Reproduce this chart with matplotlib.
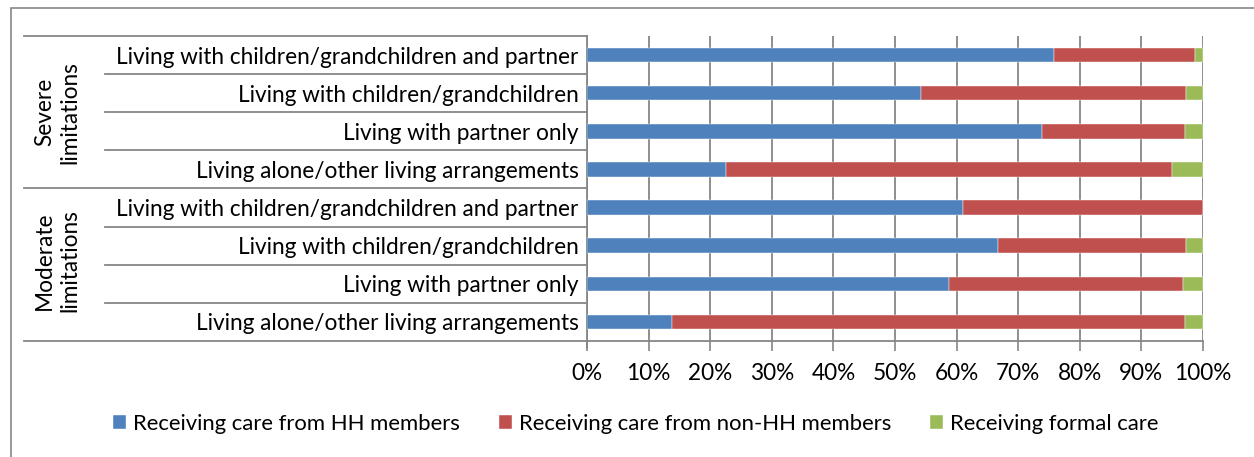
import matplotlib
matplotlib.use("Agg")
import matplotlib.pyplot as plt
from matplotlib.patches import Rectangle

plt.rcParams['font.family'] = ['Lato', 'DejaVu Sans']

categories = [
    "Living with children/grandchildren and partner",
    "Living with children/grandchildren",
    "Living with partner only",
    "Living alone/other living arrangements",
    "Living with children/grandchildren and partner",
    "Living with children/grandchildren",
    "Living with partner only",
    "Living alone/other living arrangements",
]
groups = ["Severe\nlimitations", "Moderate\nlimitations"]
hh = [75.8, 54.2, 73.8, 22.5, 61.0, 66.8, 58.7, 13.8]
non_hh = [22.9, 43.1, 23.3, 72.4, 39.0, 30.4, 38.0, 83.2]
formal = [1.3, 2.7, 2.9, 5.1, 0.0, 2.8, 3.3, 3.0]
series_names = ["Receiving care from HH members",
                "Receiving care from non-HH members",
                "Receiving formal care"]
colors = ["#4F81BD", "#C0504D", "#9BBB59"]
xticks = list(range(0, 101, 10))
xticklabels = [f"{t}%" for t in xticks]

FS = 16.3
W, H = 1254, 457
fig = plt.figure(figsize=(W / 100, H / 100), dpi=100)
ax = fig.add_axes([587 / W, (H - 341) / H, 616 / W, 305 / H])

y = list(range(len(categories)))
left = [0] * len(categories)
for vals, name, c in zip([hh, non_hh, formal], series_names, colors):
    ax.barh(y, vals, left=left, height=0.38, color=c, label=name,
            edgecolor='white', linewidth=0.3, zorder=3)
    left = [a + b for a, b in zip(left, vals)]

ax.set_xlim(0, 100)
ax.set_ylim(len(categories) - 0.5, -0.5)
ax.set_xticks(xticks)
ax.set_xticklabels(xticklabels, fontsize=FS)
ax.set_yticks(y)
ax.set_yticklabels(categories, fontsize=FS)
ax.tick_params(axis='y', length=0, pad=6)
ax.tick_params(axis='x', length=7, width=1.2, color='#868686', pad=9, direction='out')
ax.grid(axis='x', color='#868686', linewidth=1.3, zorder=0)
for s in ['top', 'right']:
    ax.spines[s].set_visible(False)
for s in ['left', 'bottom']:
    ax.spines[s].set_color('#868686')
    ax.spines[s].set_linewidth(1.3)

tr = ax.get_yaxis_transform()
x_full = (24 - 587) / 616
x_inner = (105 - 587) / 616
for b in [i - 0.5 for i in range(len(categories) + 1)]:
    xs = x_full if b in (-0.5, 3.5, 7.5) else x_inner
    ax.plot([xs, 0], [b, b], transform=tr, color='#868686', lw=1.3, clip_on=False)
ax.plot([0, 0], [7.5, 7.68], transform=tr, color='#868686', lw=1.3, clip_on=False)

gx = (57 - 587) / 616
ax.text(gx, 1.5, groups[0], transform=tr, rotation=90, ha='center', va='center',
        fontsize=FS, linespacing=1.25)
ax.text(gx, 5.4, groups[1], transform=tr, rotation=90, ha='center', va='center',
        fontsize=FS, linespacing=1.25)

fig.patches.append(Rectangle((11 / W, -0.1), 1.2, (H - 8) / H + 0.1,
                             transform=fig.transFigure, fill=False,
                             edgecolor='#868686', lw=1.2))

fig.legend(loc='center', bbox_to_anchor=(0.507, 1 - 424 / H), ncol=3, frameon=False,
           fontsize=15.9, handlelength=0.6, handleheight=0.6, handletextpad=0.32,
           columnspacing=1.75)

fig.savefig("out.png", dpi=100)
